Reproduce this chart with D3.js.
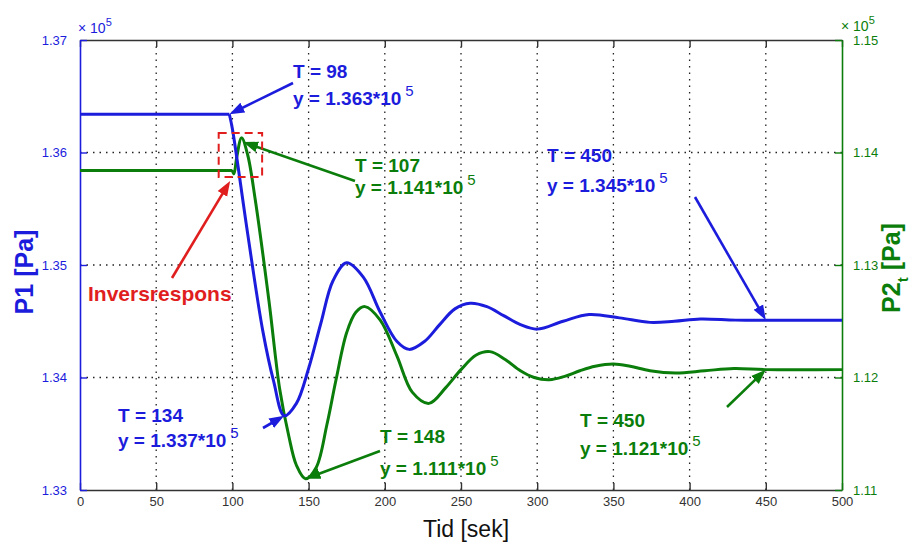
<!DOCTYPE html>
<html>
<head>
<meta charset="utf-8">
<script src="https://cdn.jsdelivr.net/npm/d3@7"></script>
<style>
  body { margin: 0; background: #fff; }
  text { font-family: Arial, "Liberation Sans", Helvetica, sans-serif; }
</style>
</head>
<body>
<div id="chart"></div>
<script>
var timeP1 = [0, 98, 100, 110, 120, 127, 134, 142, 150, 158, 166, 175, 186, 197, 208, 216, 226, 236, 246, 256, 267, 278, 289, 300, 317, 334, 354, 374, 390, 407, 430, 450, 500];
var valuesP1 = [1.3634, 1.3634, 1.3621, 1.3528, 1.3441, 1.3397, 1.3366, 1.3377, 1.3408, 1.3448, 1.3486, 1.3502, 1.3489, 1.3458, 1.3432, 1.3425, 1.3432, 1.3447, 1.3461, 1.3466, 1.3463, 1.3455, 1.3447, 1.3443, 1.3450, 1.3456, 1.3453, 1.3449, 1.3450, 1.3452, 1.3451, 1.3451, 1.3451];

var timeP2 = [0, 100, 101, 103, 106, 110, 115, 124, 131, 137, 142, 148, 155, 162, 168, 175, 181, 187, 197, 208, 218, 229, 240, 250, 260, 269, 279, 289, 298, 308, 318, 328, 338, 350, 361, 374, 391, 410, 429, 450, 500];
var valuesP2 = [1.1384, 1.1384, 1.1381, 1.1397, 1.1413, 1.1398, 1.1358, 1.1268, 1.1190, 1.1148, 1.1122, 1.1110, 1.1120, 1.1158, 1.1198, 1.1240, 1.1258, 1.1263, 1.1251, 1.1219, 1.1187, 1.1177, 1.1191, 1.1207, 1.1220, 1.1223, 1.1216, 1.1206, 1.1200, 1.1198, 1.1201, 1.1206, 1.1210, 1.1212, 1.1210, 1.1206, 1.1204, 1.1206, 1.1208, 1.1207, 1.1207];

var xTicks = [0, 50, 100, 150, 200, 250, 300, 350, 400, 450, 500];
var leftTicks = [1.33, 1.34, 1.35, 1.36, 1.37];
var rightTicks = [1.11, 1.12, 1.13, 1.14, 1.15];

var annTimes = [98, 107, 450, 134, 148, 450];
var annValues = ["1.363", "1.141", "1.345", "1.337", "1.111", "1.121"];
var annSeries = ["P1", "P2", "P1", "P1", "P2", "P2"];

var svgWidth = 913;
var svgHeight = 543;

var margin = { top: 40, right: 71, bottom: 53, left: 80 };
var width = svgWidth - margin.left - margin.right;
var height = svgHeight - margin.top - margin.bottom;

var blue = "#1c1cdc";
var green = "#0b7d0b";
var red = "#e01e1e";

var svg = d3.select("#chart")
  .append("svg")
  .attr("width", svgWidth)
  .attr("height", svgHeight);

var chartGroup = svg.append("g")
  .attr("transform", `translate(${margin.left}, ${margin.top})`);

var xScale = d3.scaleLinear().domain([0, 500]).range([0, width]);
var yLeft = d3.scaleLinear().domain([1.33, 1.37]).range([height, 0]);
var yRight = d3.scaleLinear().domain([1.11, 1.15]).range([height, 0]);

// grid
chartGroup.selectAll(".vgrid")
  .data(xTicks.slice(1, -1))
  .enter()
  .append("line")
  .attr("x1", d => xScale(d)).attr("x2", d => xScale(d))
  .attr("y1", 0).attr("y2", height)
  .attr("stroke", "#222").attr("stroke-width", 1.3)
  .attr("stroke-dasharray", "1.5,5");

chartGroup.selectAll(".hgrid")
  .data(leftTicks.slice(1, -1))
  .enter()
  .append("line")
  .attr("x1", 0).attr("x2", width)
  .attr("y1", d => yLeft(d)).attr("y2", d => yLeft(d))
  .attr("stroke", "#222").attr("stroke-width", 1.3)
  .attr("stroke-dasharray", "1.5,5");

// axes
var bottomAxis = d3.axisBottom(xScale).tickValues(xTicks).tickSizeInner(-7).tickSizeOuter(0).tickPadding(7);
var topAxis = d3.axisTop(xScale).tickValues(xTicks).tickSizeInner(-7).tickSizeOuter(0).tickFormat("");
var leftAxis = d3.axisLeft(yLeft).tickValues(leftTicks).tickSizeInner(-7).tickSizeOuter(0).tickPadding(13).tickFormat(d3.format(".2f"));
var rightAxis = d3.axisRight(yRight).tickValues(rightTicks).tickSizeInner(-7).tickSizeOuter(0).tickPadding(11).tickFormat(d3.format(".2f"));

function styleAxis(g, color) {
  g.select(".domain").attr("stroke", color).attr("stroke-width", 1.6);
  g.selectAll(".tick line").attr("stroke", color).attr("stroke-width", 1.4);
  g.selectAll(".tick text").attr("fill", color).style("font-size", "13px").style("font-family", "Arial, 'Liberation Sans', sans-serif");
}

chartGroup.append("g").attr("transform", `translate(0, ${height})`).call(bottomAxis).call(g => styleAxis(g, "#333"));
chartGroup.append("g").call(topAxis).call(g => styleAxis(g, "#333"));
chartGroup.append("g").call(leftAxis).call(g => styleAxis(g, blue));
chartGroup.append("g").attr("transform", `translate(${width}, 0)`).call(rightAxis).call(g => styleAxis(g, green));

// exponent labels
function exponent(x, y, color) {
  var t = svg.append("text").attr("x", x).attr("y", y).attr("fill", color).style("font-size", "14px");
  t.append("tspan").text("\u00d7 10");
  t.append("tspan").attr("dy", -7).style("font-size", "11px").text("5");
}
exponent(margin.left - 2, margin.top - 7, blue);
exponent(margin.left + width - 1, margin.top - 9, green);

// lines: flat start drawn straight, the response drawn smooth
function drawSeries(times, values, yScale, color) {
  var k = values.lastIndexOf(values[0]);
  var pts = times.map((t, i) => [xScale(t), yScale(values[i])]);
  chartGroup.append("path")
    .attr("d", d3.line()(pts.slice(0, k + 1)))
    .attr("fill", "none").attr("stroke", color).attr("stroke-width", 3);
  chartGroup.append("path")
    .attr("d", d3.line().curve(d3.curveCatmullRom.alpha(0.5))(pts.slice(k)))
    .attr("fill", "none").attr("stroke", color).attr("stroke-width", 3)
    .attr("stroke-linejoin", "round");
}

drawSeries(timeP2, valuesP2, yRight, green);
drawSeries(timeP1, valuesP1, yLeft, blue);

// arrow markers
var defs = svg.append("defs");
[["blue", blue], ["green", green], ["red", red]].forEach(function(c) {
  defs.append("marker")
    .attr("id", "head-" + c[0])
    .attr("viewBox", "-15 -6 15 12")
    .attr("refX", 0).attr("refY", 0)
    .attr("markerWidth", 15).attr("markerHeight", 12)
    .attr("markerUnits", "userSpaceOnUse")
    .attr("orient", "auto")
    .append("path")
    .attr("d", "M0,0L-15,-5.5L-15,5.5Z")
    .attr("fill", c[1]);
});

function valueAt(times, values, t) {
  var i = d3.bisectLeft(times, t);
  if (times[i] === t) return values[i];
  var k = (t - times[i - 1]) / (times[i] - times[i - 1]);
  return values[i - 1] + k * (values[i] - values[i - 1]);
}

function arrow(x1, y1, x2, y2, name, color) {
  var dx = x2 - x1, dy = y2 - y1, len = Math.sqrt(dx * dx + dy * dy);
  svg.append("line")
    .attr("x1", x1).attr("y1", y1)
    .attr("x2", x2 - dx / len * 8).attr("y2", y2 - dy / len * 8)
    .attr("stroke", color).attr("stroke-width", 2.6);
  svg.append("line")
    .attr("x1", x2 - dx / len * 9).attr("y1", y2 - dy / len * 9)
    .attr("x2", x2).attr("y2", y2)
    .attr("stroke", "none")
    .attr("marker-end", `url(#head-${name})`);
}

// text box and arrow tail for each annotation
var annLayout = [
  { x: 293, y1: 78, y2: 105, ax: 293, ay: 83 },
  { x: 355, y1: 172, y2: 194, ax: 355, ay: 181 },
  { x: 547, y1: 162, y2: 192, ax: 695, ay: 197 },
  { x: 118, y1: 422, y2: 447, ax: 263, ay: 428 },
  { x: 380, y1: 443, y2: 475, ax: 380, ay: 451 },
  { x: 580, y1: 427, y2: 455, ax: 727, ay: 407 }
];

annTimes.forEach(function(t, i) {
  var isP1 = annSeries[i] === "P1";
  var color = isP1 ? blue : green;
  var v = isP1 ? valueAt(timeP1, valuesP1, t) : valueAt(timeP2, valuesP2, t);
  var tipX = margin.left + xScale(t);
  var tipY = margin.top + (isP1 ? yLeft(v) : yRight(v));
  var L = annLayout[i];

  svg.append("text")
    .attr("x", L.x).attr("y", L.y1)
    .attr("fill", color).style("font-size", "19px").style("font-weight", "bold")
    .text("T = " + t);

  var yText = svg.append("text")
    .attr("x", L.x).attr("y", L.y2)
    .attr("fill", color).style("font-size", "19px").style("font-weight", "bold");
  yText.append("tspan").text("y = " + annValues[i] + "*10");
  yText.append("tspan").attr("dx", 4).attr("dy", -9)
    .style("font-size", "15px").style("font-weight", "normal").text("5");

  arrow(L.ax, L.ay, tipX, tipY, isP1 ? "blue" : "green", color);
});

// inverse response box
var boxX0 = margin.left + xScale(91);
var boxX1 = margin.left + xScale(119.5);
svg.append("rect")
  .attr("x", boxX0).attr("y", 133)
  .attr("width", boxX1 - boxX0).attr("height", 44)
  .attr("fill", "none").attr("stroke", red).attr("stroke-width", 2)
  .attr("stroke-dasharray", "8,5");

arrow(172, 278, margin.left + xScale(98.5), 181, "red", red);

svg.append("text")
  .attr("x", 88).attr("y", 301)
  .attr("fill", red).style("font-size", "21px").style("font-weight", "bold")
  .text("Inversrespons");

// axis titles
svg.append("text")
  .attr("transform", `translate(33, 272)rotate(-90)`)
  .attr("text-anchor", "middle")
  .attr("fill", blue).style("font-size", "25px").style("font-weight", "bold")
  .text("P1 [Pa]");

var p2Label = svg.append("text")
  .attr("transform", `translate(900, 268)rotate(-90)`)
  .attr("text-anchor", "middle")
  .attr("fill", green).style("font-size", "25px").style("font-weight", "bold");
p2Label.append("tspan").text("P2");
p2Label.append("tspan").attr("dy", 8).style("font-size", "15px").text("t");
p2Label.append("tspan").attr("dy", -8).text(" [Pa]");

svg.append("text")
  .attr("x", margin.left + width / 2 + 5).attr("y", 537)
  .attr("text-anchor", "middle")
  .attr("fill", "#111").style("font-size", "23px")
  .text("Tid [sek]");
</script>
</body>
</html>
